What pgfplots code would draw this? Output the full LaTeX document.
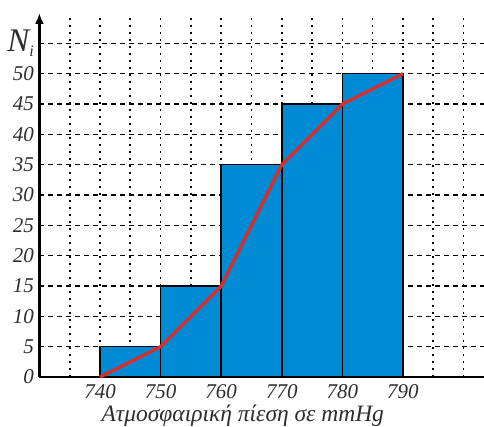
\documentclass[border=0pt]{standalone}
\usepackage{fontspec}
\setmainfont{Liberation Serif}
\usepackage{pgfplots}
\pgfplotsset{compat=1.18}
\usetikzlibrary{arrows.meta}
\definecolor{barblue}{RGB}{0,138,212}
\definecolor{polyred}{RGB}{212,48,48}
\definecolor{txt}{RGB}{45,45,45}
\newcommand\tl[1]{\mbox{\fontsize{21}{21}\selectfont\itshape #1}}
\begin{document}
\begin{tikzpicture}
\useasboundingbox (-39.4pt,-50pt) rectangle (444.6pt,377pt);
\begin{axis}[
  at={(0,0)}, anchor=south west,
  scale only axis,
  width=444.8pt, height=364pt,
  xmin=730, xmax=803.4,
  ymin=0, ymax=60,
  axis x line=bottom,
  axis y line=left,
  x axis line style={-, line width=2.4pt},
  y axis line style={-{Latex[length=11pt,width=9pt]}, line width=2.4pt},
  xtick={740,750,...,790},
  xticklabels={\tl{740},\tl{750},\tl{760},\tl{770},\tl{780},\tl{790}},
  minor xtick={735,745,755,765,775,785,795,800},
  ytick={0,5,...,55},
  yticklabels={\tl{0},\tl{5},\tl{10},\tl{15},\tl{20},\tl{25},\tl{30},\tl{35},\tl{40},\tl{45},\tl{50},{\mbox{\fontsize{33}{33}\selectfont\itshape N\raisebox{-0.3ex}{\fontsize{16}{16}\selectfont i}}}},
  major tick length=0pt, minor tick length=0pt,
  tick label style={text=txt},
  yticklabel style={xshift=-2pt},
  xticklabel style={yshift=-4pt},
  xmajorgrids, xminorgrids, ymajorgrids,
  major x grid style={black, line width=1.6pt, dash pattern=on 2pt off 5pt},
  minor x grid style={black, line width=1.6pt, dash pattern=on 2pt off 5pt},
  major y grid style={black, line width=1.6pt, dash pattern=on 5pt off 4pt},
  xlabel={\tl{\fontsize{23.5}{23.5}\selectfont Ατμοσφαιρική πίεση σε mmHg}},
  xlabel style={text=txt, yshift=1pt, xshift=-19pt},
  clip=false,
]
\addplot[ybar interval, fill=barblue, draw=black, line width=1.6pt]
  coordinates {(740,5) (750,15) (760,35) (770,45) (780,50) (790,50)};
\addplot[polyred, line width=3.4pt, line join=round]
  coordinates {(740,0) (750,5) (760,15) (770,35) (780,45) (790,50)};
\end{axis}
\end{tikzpicture}
\end{document}
